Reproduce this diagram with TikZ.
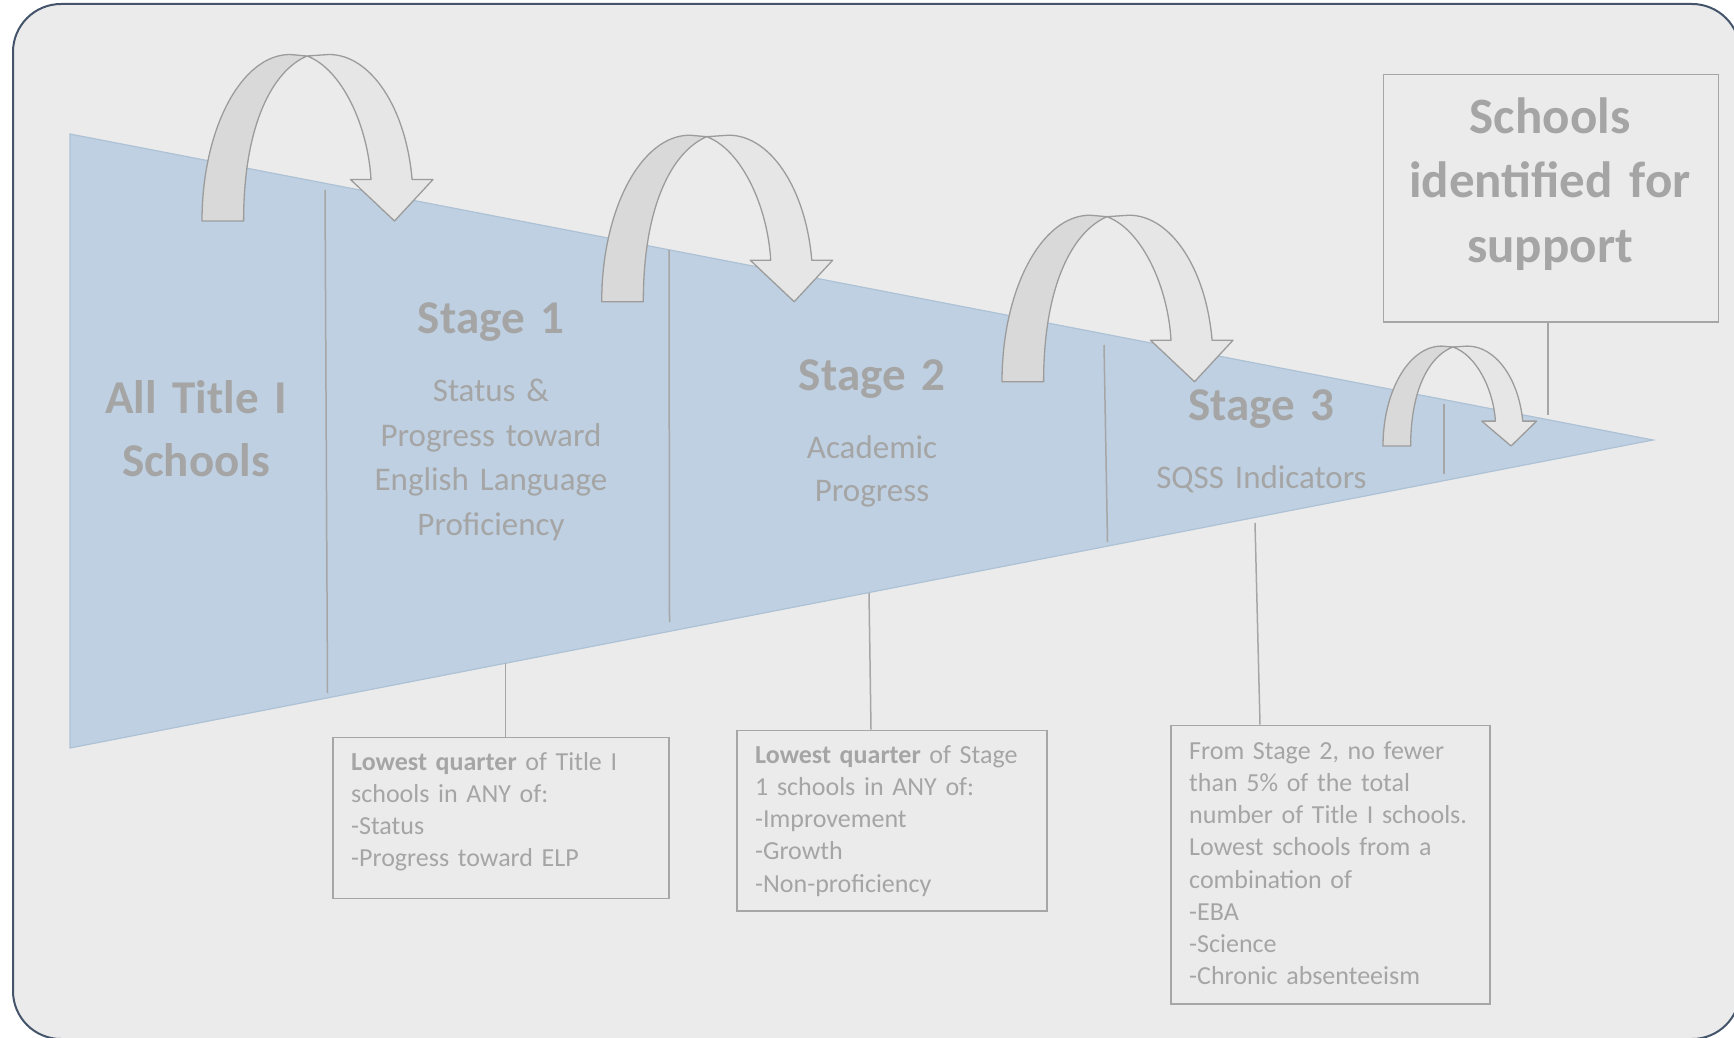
\documentclass[tikz,border=0pt]{standalone}
\usepackage{fontspec}
\setmainfont{Carlito}
\definecolor{panel}{HTML}{EBEBEB}
\definecolor{frame}{HTML}{44546A}
\definecolor{funnel}{HTML}{BED0E1}
\definecolor{funnelrim}{HTML}{AEC2D6}
\definecolor{rule}{HTML}{A6A6A6}
\definecolor{ink}{HTML}{A5A5A5}
\definecolor{bandback}{HTML}{D9D9D9}
\definecolor{bandfront}{HTML}{E6E6E6}
\definecolor{bandrim}{HTML}{9C9C9C}

% Curved "skip" arrow: #1 = foot of the left leg, #2/#3 = horizontal/vertical scale
\newcommand\hoparrow[3]{%
  \begin{scope}[shift={#1}, xscale=#2, yscale=-#3]
    \filldraw[backband] (0,0) arc[start angle=180, end angle=90, x radius=88, y radius=166.5]
      -- (105,165) .. controls (70,150) and (41.6,95) .. (41.6,0) -- cycle;
    \filldraw[frontband] (105,165) -- (127,166.5)
      arc[start angle=90, end angle=8.44, x radius=84, y radius=146.5]
      -- (231,41.5) -- (192.5,0) -- (148.5,41.5) -- (169,41.5)
      .. controls (166,95) and (140,152) .. (105,165) -- cycle;
  \end{scope}}

\begin{document}
\begin{tikzpicture}[x=1pt, y=-1pt,
  backband/.style={fill=bandback, draw=bandrim, line width=1.3pt, line join=round},
  frontband/.style={fill=bandfront, draw=bandrim, line width=1.3pt, line join=round},
  divider/.style={draw=rule, line width=1.5pt},
  link/.style={draw=rule, line width=1.5pt},
  boxframe/.style={draw=rule, line width=1.5pt, inner sep=0pt, anchor=north west},
  heading/.style={text=ink, font=\fontsize{47}{63.4}\selectfont\bfseries, inner sep=0pt,
    anchor=base, text width=360pt, align=center},
  bodytext/.style={text=ink, font=\fontsize{33}{44.5}\selectfont, inner sep=0pt,
    anchor=base, text width=360pt, align=center},
  boxtext/.style={text=ink, font=\fontsize{26}{32.2}\selectfont, inner sep=0pt,
    anchor=base west, text width=300pt, align=left},
  bigtext/.style={text=ink, font=\fontsize{51}{64.7}\selectfont\bfseries, inner sep=0pt,
    anchor=base, text width=360pt, align=center}]

\useasboundingbox (0,0) rectangle (1734,1038);
\clip (0,0) rectangle (1734,1038);
\fill[white] (0,0) rectangle (1734,1038);

% rounded panel
\draw[frame, line width=2pt, fill=panel, rounded corners=48pt] (13,4) rectangle (1740,1039);

% funnel
\filldraw[fill=funnel, draw=funnelrim, line width=1.2pt] (70,134) -- (1653,440) -- (70,748) -- cycle;

% stage dividers
\draw[divider] (325,190) -- (327.5,693);
\draw[divider] (669,250) -- (669.5,622);
\draw[divider] (1104,345) -- (1107.5,542);
\draw[divider] (1444,404) -- (1444,474);

% skip arrows
\hoparrow{(202,221)}{1}{1}
\hoparrow{(601.7,301.7)}{1}{1}
\hoparrow{(1002,381.7)}{1}{1}
\hoparrow{(1383,446)}{0.665}{0.6}

% labels inside the funnel
\node[heading] (alltitle) at (196,413.3) {All Title I\\Schools};
\node[heading] (stage1) at (491,333.3) {Stage 1};
\node[bodytext] (stage1txt) at (491,401.7) {Status \&\\Progress toward\\English Language\\Proficiency};
\node[heading] (stage2) at (872,390.7) {Stage 2};
\node[bodytext, font=\fontsize{33}{43.4}\selectfont] (stage2txt) at (872,458.3) {Academic\\Progress};
\node[heading] (stage3) at (1261.5,420) {Stage 3};
\node[bodytext] (stage3txt) at (1261.5,488.3) {SQSS Indicators};

% outcome box
\node[boxframe, minimum width=335pt, minimum height=247pt] (support) at (1382.5,74) {};
\node[bigtext] (supporttxt) at (1550,133.3) {Schools\\identified for\\support};

% criteria boxes
\node[boxframe, minimum width=336pt, minimum height=161pt] (crit1) at (332,736.5) {};
\node[boxtext] (crit1txt) at (351,770) {\textbf{Lowest quarter} of Title I\\schools in ANY of:\\-Status\\-Progress toward ELP};
\node[boxframe, minimum width=310pt, minimum height=180.5pt] (crit2) at (736,729.5) {};
\node[boxtext] (crit2txt) at (755,763.3) {\textbf{Lowest quarter} of Stage\\1 schools in ANY of:\\-Improvement\\-Growth\\-Non-proficiency};
\node[boxframe, minimum width=319pt, minimum height=278.5pt] (crit3) at (1170,724.5) {};
\node[boxtext] (crit3txt) at (1189,759.3) {From Stage 2, no fewer\\than 5\% of the total\\number of Title I schools.\\Lowest schools from a\\combination of\\-EBA\\-Science\\-Chronic absenteeism};

% connectors
\coordinate (foot1) at (505.4,663);
\coordinate (foot2) at (869,593);
\coordinate (foot3) at (1255,523);
\coordinate (foot4) at (1548,415);
\draw[link] (foot1) -- (foot1 |- crit1.north);
\draw[link] (foot2) -- ([xshift=2pt]foot2 |- crit2.north);
\draw[link] (foot3) -- ([xshift=5pt]foot3 |- crit3.north);
\draw[link] (foot4) -- (foot4 |- support.south);
\end{tikzpicture}
\end{document}
